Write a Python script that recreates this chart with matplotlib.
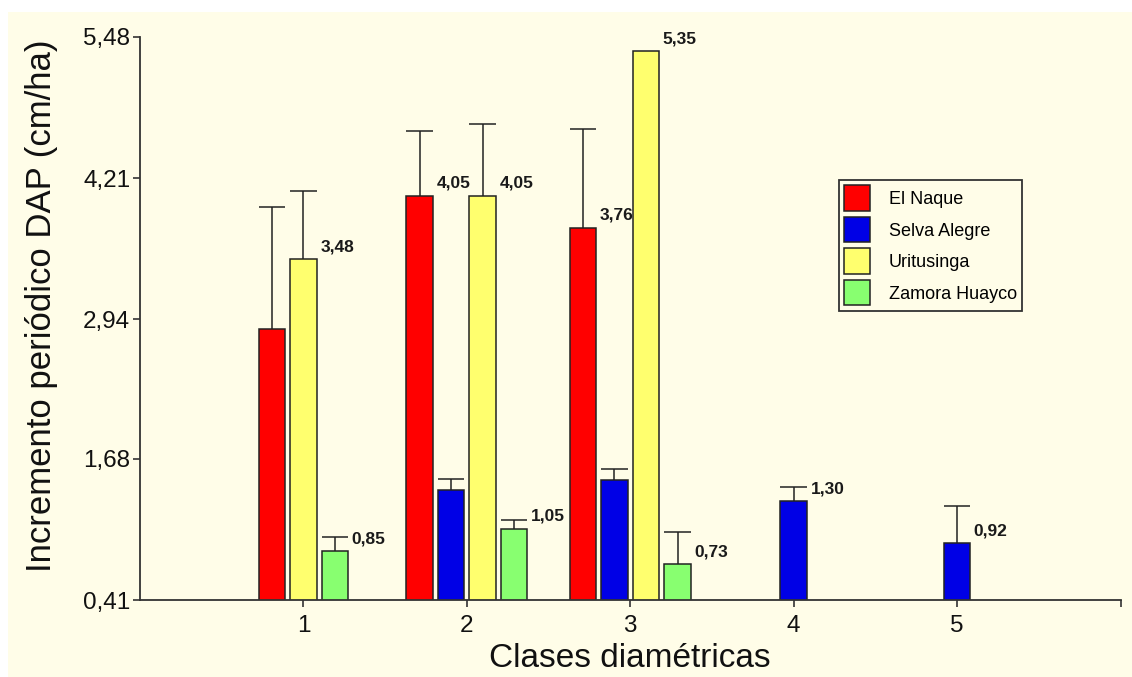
import numpy as np
import matplotlib
matplotlib.use("Agg")
import matplotlib.pyplot as plt
from matplotlib.patches import Rectangle

# Diameter classes
classes = [1, 2, 3, 4, 5]
class_labels = ["1", "2", "3", "4", "5"]

# Mean periodic DBH increment per site (NaN = no trees in that class)
series_names = ["El Naque", "Selva Alegre", "Uritusinga", "Zamora Huayco"]
el_naque = [2.85, 4.05, 3.76, np.nan, np.nan]
selva_alegre = [np.nan, 1.40, 1.49, 1.30, 0.92]
uritusinga = [3.48, 4.05, 5.35, np.nan, np.nan]
zamora_huayco = [0.85, 1.05, 0.73, np.nan, np.nan]

# Upper error (standard error) per bar
el_naque_err = [1.10, 0.58, 0.89, np.nan, np.nan]
selva_alegre_err = [np.nan, 0.10, 0.10, 0.13, 0.34]
uritusinga_err = [0.61, 0.65, np.nan, np.nan, np.nan]
zamora_huayco_err = [0.13, 0.08, 0.29, np.nan, np.nan]

# Which bars carry a value label
el_naque_lbl = [False, True, True, False, False]
selva_alegre_lbl = [False, False, False, True, True]
uritusinga_lbl = [True, True, True, False, False]
zamora_huayco_lbl = [True, True, True, False, False]

y_ticks = [0.41, 1.68, 2.94, 4.21, 5.48]

colors = ["#FF0000", "#0000E6", "#FFFF6E", "#88FF70"]
values = [el_naque, selva_alegre, uritusinga, zamora_huayco]
errors = [el_naque_err, selva_alegre_err, uritusinga_err, zamora_huayco_err]
show = [el_naque_lbl, selva_alegre_lbl, uritusinga_lbl, zamora_huayco_lbl]

cream = "#FFFDE8"
dark = "#222222"

W, H = 1132, 677
fig = plt.figure(figsize=(W / 100, H / 100), dpi=100)
fig.patch.set_facecolor("white")
fig.patches.append(Rectangle((8 / W, 0), 1, (H - 12) / H, transform=fig.transFigure,
                             facecolor=cream, edgecolor="none", zorder=-10))

ax = fig.add_axes([140 / W, (H - 600) / H, (1120.5 - 140) / W, (600 - 37) / H])
ax.set_facecolor("none")

step = 0.193
width = 0.163

handles = []
for ci, x0 in enumerate(classes):
    present = [s for s in range(len(values)) if not np.isnan(values[s][ci])]
    n = len(present)
    for k, s in enumerate(present):
        x = x0 + (k - (n - 1) / 2) * step
        v = values[s][ci]
        ax.bar(x, v, width=width, color=colors[s], edgecolor=dark,
               linewidth=1.1, zorder=2)
        e = errors[s][ci]
        if not np.isnan(e):
            ax.vlines(x, v, v + e, color=dark, linewidth=1.1, zorder=3)
            ax.hlines(v + e, x - width / 2, x + width / 2, color=dark,
                      linewidth=1.1, zorder=3)
        if show[s][ci]:
            ax.annotate(f"{v:.2f}".replace(".", ","), xy=(x + width / 2, v),
                        xytext=(2.5, 9), textcoords="offset points",
                        ha="left", va="center", fontsize=12.5, fontweight="bold",
                        family="Liberation Sans", color="#1a1a1a", zorder=4)

for s in range(len(series_names)):
    handles.append(Rectangle((0, 0), 1, 1, facecolor=colors[s], edgecolor=dark,
                             linewidth=1.1))

ax.set_xlim(0, 6)
ax.set_ylim(0.41, 5.48)
ax.set_xticks(classes + [6])
ax.set_xticklabels(class_labels + [""])
ax.set_yticks(y_ticks)
ax.set_yticklabels([f"{t:.2f}".replace(".", ",") for t in y_ticks])

for side in ["top", "right"]:
    ax.spines[side].set_visible(False)
for side in ["left", "bottom"]:
    ax.spines[side].set_color("#333333")
    ax.spines[side].set_linewidth(1.3)

ax.tick_params(axis="both", colors="#333333", width=1.2, length=5, labelcolor="#111111",
               labelsize=17.5)
ax.tick_params(axis="y", pad=2)
ax.tick_params(axis="x", pad=6)
for lab in ax.get_xticklabels() + ax.get_yticklabels():
    lab.set_family("Liberation Sans")

ax.set_xlabel("Clases diamétricas", fontsize=24, family="Liberation Sans",
              color="#111111", labelpad=4)
ax.set_ylabel("Incremento periódico DAP (cm/ha)", fontsize=25, family="Liberation Sans",
              color="#111111")
ax.yaxis.set_label_coords((58 - 140) / (1120.5 - 140), (600 - 306) / 563)

leg = ax.legend(handles, series_names, loc="upper left",
                bbox_to_anchor=(839 / W, 1 - 180 / H), bbox_transform=fig.transFigure,
                prop={"family": "Liberation Sans", "size": 13},
                handlelength=1.4, handleheight=1.8, labelspacing=0.33,
                handletextpad=1.05, borderpad=0.3, borderaxespad=0,
                fancybox=False, frameon=True)
leg.get_frame().set_edgecolor("#333333")
leg.get_frame().set_linewidth(1.3)
leg.get_frame().set_facecolor(cream)
leg.get_frame().set_alpha(1)

fig.savefig("out.png", dpi=100)
